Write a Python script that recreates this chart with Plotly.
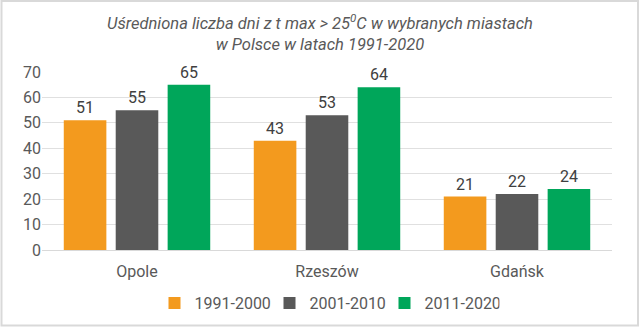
import plotly.graph_objects as go

cities = ["Opole", "Rzeszów", "Gdańsk"]
series_names = ["1991-2000", "2001-2010", "2011-2020"]
v1991 = [51, 43, 21]
v2001 = [55, 53, 22]
v2011 = [65, 64, 24]
colors = ["#F39A1E", "#595959", "#00A65A"]
y_ticks = [0, 10, 20, 30, 40, 50, 60, 70]

W, H = 640, 328
L, R, T, B = 42, 28, 72, 78
pw, ph = W - L - R, H - T - B

fig = go.Figure()
for name, vals, col in zip(series_names, [v1991, v2001, v2011], colors):
    fig.add_trace(go.Bar(
        x=cities, y=vals, name=name, marker=dict(color=col, line=dict(width=0)),
        text=[str(v) for v in vals], textposition="outside",
        textfont=dict(family="Roboto, Arial", size=16, color="#404040"),
        cliponaxis=False,
    ))

fig.update_layout(
    width=W, height=H,
    margin=dict(l=L, r=R, t=T, b=B, autoexpand=False),
    paper_bgcolor="white", plot_bgcolor="white",
    barmode="group", bargap=0.18, bargroupgap=0.18,
    title=dict(
        text="<i>Uśredniona liczba dni z t max > 25<sup>0</sup>C w wybranych miastach<br>w Polsce w latach 1991-2020</i>",
        x=0.5, xanchor="center", yref="container", y=1 - 29 / H, yanchor="middle",
        font=dict(family="Roboto, Arial", size=16.5, color="#595959"),
    ),
    font=dict(family="Roboto, Arial", size=16, color="#595959"),
    xaxis=dict(showline=True, linecolor="#D9D9D9", linewidth=1, ticks="",
               tickfont=dict(size=16, color="#595959"), ticklabelstandoff=7),
    yaxis=dict(range=[0, 70], tickvals=y_ticks, showgrid=True, gridcolor="#E0E0E0",
               zeroline=False, ticks="", tickfont=dict(size=16, color="#595959")),
    legend=dict(orientation="h", x=0.5, xanchor="center", yref="container",
                y=1 - 303 / H, yanchor="middle",
                font=dict(size=16, color="#595959"), itemwidth=30,
                entrywidth=70, entrywidthmode="pixels", traceorder="normal"),
    shapes=[dict(type="rect", xref="paper", yref="paper",
                 x0=-(L - 1.5) / pw, x1=1 + (R - 2) / pw,
                 y0=-(B - 2.5) / ph, y1=1 + (T - 1) / ph,
                 line=dict(color="#D9D9D9", width=2))],
)

fig.write_html("out.html")
